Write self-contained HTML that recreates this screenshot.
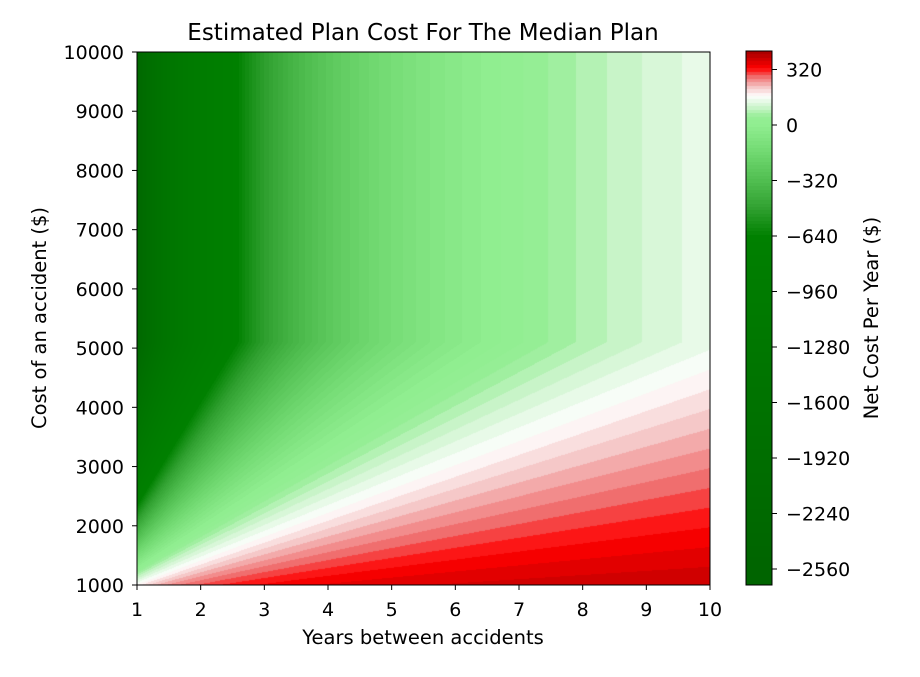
<!DOCTYPE html>
<html><head><meta charset="utf-8"><style>
body{margin:0;background:#fff;}
#w{position:relative;width:920px;height:677px;font-family:"DejaVu Sans","Liberation Sans",sans-serif;}
canvas{position:absolute;}
svg{position:absolute;left:0;top:0;}
</style></head><body><div id="w">
<canvas id="p" width="573" height="533" style="left:137px;top:52px"></canvas>
<canvas id="c" width="26" height="534" style="left:746px;top:51px"></canvas>
<svg width="920" height="677" font-family="DejaVu Sans, Liberation Sans, sans-serif" font-size="19" fill="#000">
<rect x="137" y="52" width="573" height="533" fill="none" stroke="#000" stroke-width="1"/>
<rect x="746" y="51" width="26" height="534" fill="none" stroke="#000" stroke-width="1"/>
<text x="423" y="40" text-anchor="middle" font-size="23">Estimated Plan Cost For The Median Plan</text>
<text x="423" y="644" text-anchor="middle" font-size="19.5">Years between accidents</text>
<text transform="translate(46,318) rotate(-90)" text-anchor="middle" font-size="19.5">Cost of an accident ($)</text>
<text transform="translate(878,318) rotate(-90)" text-anchor="middle" font-size="19.5">Net Cost Per Year ($)</text>
<g id="xt"></g><g id="yt"></g><g id="ct"></g>
</svg>
</div>
<script>
var NS="http://www.w3.org/2000/svg";
function el(p,t,a,txt){var e=document.createElementNS(NS,t);for(var k in a)e.setAttribute(k,a[k]);if(txt!==undefined)e.textContent=txt;document.getElementById(p).appendChild(e);}
for(var i=1;i<=10;i++){var x=137+(i-1)*573/9;el("xt","line",{x1:x,x2:x,y1:585,y2:590,stroke:"#000"});el("xt","text",{x:x,y:616,"text-anchor":"middle"},i);}
for(var v=1000;v<=10000;v+=1000){var y=585-(v-1000)/9000*533;el("yt","line",{x1:132,x2:137,y1:y,y2:y,stroke:"#000"});el("yt","text",{x:124,y:y+7,"text-anchor":"end"},v);}
var cl=[320,0,-320,-640,-960,-1280,-1600,-1920,-2240,-2560];
cl.forEach(function(t){var y=125-t/320*55.5;el("ct","line",{x1:772,x2:777,y1:y,y2:y,stroke:"#000"});el("ct","text",{x:786,y:y+7},(t<0?"\u2212"+(-t):t));});
var stops=[[430,[160,0,0]],[330,[255,0,0]],[280,[240,110,110]],[220,[245,200,200]],[170,[255,255,255]],[140,[232,250,232]],[100,[200,244,200]],[50,[150,238,150]],[0,[144,238,144]],[-160,[112,216,112]],[-320,[80,190,80]],[-480,[48,160,48]],[-640,[0,128,0]],[-2600,[0,100,0]]];
function col(v){v=Math.round(v/20)*20;if(v>=stops[0][0])return stops[0][1];for(var i=1;i<stops.length;i++){if(v>=stops[i][0]){var a=stops[i-1],b=stops[i],t=(v-b[0])/(a[0]-b[0]);return [0,1,2].map(function(k){return b[1][k]+t*(a[1][k]-b[1][k]);});}}return stops[stops.length-1][1];}
function val(x,y){return 412-Math.min(0.6*(y-600),2700)/x;}
var c=document.getElementById("p").getContext("2d"),im=c.createImageData(573,533);
for(var py=0;py<533;py++)for(var px=0;px<573;px++){var x=1+px/572*9,y=10000-py/532*9000,cc=col(val(x,y)),o=(py*573+px)*4;im.data[o]=cc[0];im.data[o+1]=cc[1];im.data[o+2]=cc[2];im.data[o+3]=255;}
c.putImageData(im,0,0);
var d=document.getElementById("c").getContext("2d"),im2=d.createImageData(26,534);
for(var py=0;py<534;py++){var v=-((py+51)-125)/55.5*320,cc=col(v);for(var px=0;px<26;px++){var o=(py*26+px)*4;im2.data[o]=cc[0];im2.data[o+1]=cc[1];im2.data[o+2]=cc[2];im2.data[o+3]=255;}}
d.putImageData(im2,0,0);
</script></body></html>
